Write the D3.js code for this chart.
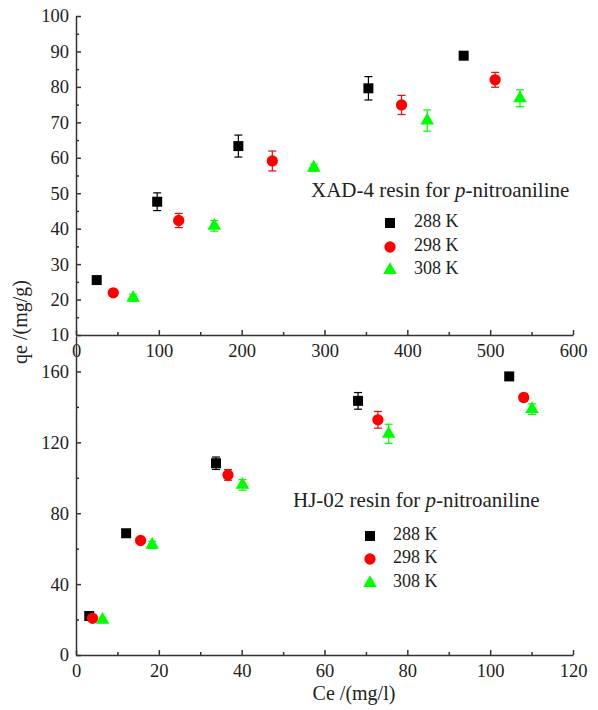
<!DOCTYPE html>
<html><head><meta charset="utf-8">
<script src="https://cdn.jsdelivr.net/npm/d3@7"></script>
<style>body{margin:0;background:#fff;} svg{display:block;}</style>
</head><body>
<svg id="c" width="598" height="710"></svg>
<script>
// ---- data ----
const seriesNames = ["288 K", "298 K", "308 K"];
const seriesColors = ["#000000", "#ff0000", "#00ff00"];
// Top panel: XAD-4 resin
const topX288 = [25, 98, 196, 353, 468];
const topY288 = [25.5, 47.6, 63.3, 79.6, 88.8];
const topE288 = [0.8, 2.5, 3.1, 3.3, 1.0];
const topX298 = [45, 124, 237, 393, 506];
const topY298 = [21.9, 42.3, 59.1, 74.9, 82.0];
const topE298 = [0.8, 2.0, 2.8, 2.7, 2.1];
const topX308 = [69, 167, 287, 424, 536];
const topY308 = [20.5, 40.8, 57.2, 70.5, 76.8];
const topE308 = [1.0, 1.5, 1.0, 3.0, 2.4];
// Bottom panel: HJ-02 resin
const botX288 = [3.2, 12.1, 33.8, 68.1, 104.6];
const botY288 = [22.0, 68.7, 108.2, 143.4, 157.2];
const botE288 = [1.0, 1.5, 3.5, 4.7, 2.0];
const botX298 = [4.0, 15.6, 36.7, 72.9, 108.1];
const botY298 = [20.7, 64.6, 101.6, 132.7, 145.3];
const botE298 = [1.0, 1.0, 3.0, 4.7, 2.0];
const botX308 = [6.4, 18.4, 40.2, 75.5, 110.1];
const botY308 = [19.8, 62.1, 96.0, 124.8, 138.7];
const botE308 = [1.5, 2.0, 3.0, 5.4, 3.0];
// ticks
const topXTicks = [0, 100, 200, 300, 400, 500, 600];
const topXMinor = [50, 150, 250, 350, 450, 550];
const topYTicks = [10, 20, 30, 40, 50, 60, 70, 80, 90, 100];
const topYMinor = [15, 25, 35, 45, 55, 65, 75, 85, 95];
const botXTicks = [0, 20, 40, 60, 80, 100, 120];
const botXMinor = [10, 30, 50, 70, 90, 110];
const botYTicks = [0, 40, 80, 120, 160];
const botYMinor = [20, 60, 100, 140];
const topTitle = ["XAD-4 resin for ", "p", "-nitroaniline"];
const botTitle = ["HJ-02 resin for ", "p", "-nitroaniline"];

const FONT = '"Liberation Serif", "Times New Roman", Times, serif';
const svg = d3.select("#c").style("font-family", FONT);
const axisColor = "#333";
const tickFs = 18.5, legFs = 18, titleFs = 21, axTitleFs = 20;

const xTop = d3.scaleLinear().domain([0, 600]).range([76, 573]);
const yTop = d3.scaleLinear().domain([10, 100]).range([335, 16]);
const xBot = d3.scaleLinear().domain([0, 120]).range([76, 573]);
const yBot = d3.scaleLinear().domain([0, 180]).range([655, 336]);

function drawAxes(x, y, xt, xm, yt, ym, yBase) {
  const gx = svg.append("g").attr("transform", `translate(0,${yBase})`);
  gx.call(d3.axisBottom(x).tickValues(xt).tickSizeInner(-5).tickSizeOuter(0).tickPadding(9).tickFormat(d3.format("d")));
  const gxm = svg.append("g").attr("transform", `translate(0,${yBase})`);
  gxm.call(d3.axisBottom(x).tickValues(xm).tickSizeInner(-3).tickSizeOuter(0).tickFormat(""));
  gxm.select(".domain").remove();
  const gy = svg.append("g").attr("transform", `translate(${x.range()[0]},0)`);
  gy.call(d3.axisLeft(y).tickValues(yt).tickSizeInner(-5).tickSizeOuter(0).tickPadding(7).tickFormat(d3.format("d")));
  const gym = svg.append("g").attr("transform", `translate(${x.range()[0]},0)`);
  gym.call(d3.axisLeft(y).tickValues(ym).tickSizeInner(-3).tickSizeOuter(0).tickFormat(""));
  gym.select(".domain").remove();
  [gx, gxm, gy, gym].forEach(g => {
    g.attr("font-family", FONT).attr("font-size", tickFs);
    g.selectAll("path,line").attr("stroke", axisColor).attr("stroke-width", 1.5);
    g.selectAll("text").style("font-family", FONT).style("font-size", tickFs + "px").attr("fill", "#222");
  });
}

const symTypes = [d3.symbolSquare, d3.symbolCircle, d3.symbolTriangle];
const symSizes = [100, 100, 80];

function drawSeries(x, y, xs, ys, es, i) {
  const color = seriesColors[i];
  const g = svg.append("g");
  const pts = xs.map((v, k) => ({x: v, y: ys[k], e: es[k]}));
  const eb = g.selectAll(".eb").data(pts).enter().append("g");
  eb.append("line").attr("x1", d => x(d.x)).attr("x2", d => x(d.x))
    .attr("y1", d => y(d.y - d.e)).attr("y2", d => y(d.y + d.e));
  eb.append("line").attr("x1", d => x(d.x) - 4).attr("x2", d => x(d.x) + 4)
    .attr("y1", d => y(d.y - d.e)).attr("y2", d => y(d.y - d.e));
  eb.append("line").attr("x1", d => x(d.x) - 4).attr("x2", d => x(d.x) + 4)
    .attr("y1", d => y(d.y + d.e)).attr("y2", d => y(d.y + d.e));
  eb.selectAll("line").attr("stroke", color).attr("stroke-width", 1.2);
  g.selectAll(".pt").data(pts).enter().append("path")
    .attr("d", d3.symbol().type(symTypes[i]).size(symSizes[i]))
    .attr("transform", d => `translate(${x(d.x)},${y(d.y)})`)
    .attr("fill", color);
}

function drawLegend(title, tx, ty, sx, lx, rows) {
  const t = svg.append("text").attr("x", tx).attr("y", ty)
    .style("font-family", FONT).style("font-size", titleFs + "px").attr("fill", "#222")
    .attr("dominant-baseline", "middle");
  t.append("tspan").text(title[0]);
  t.append("tspan").attr("font-style", "italic").text(title[1]);
  t.append("tspan").text(title[2]);
  seriesNames.forEach((n, i) => {
    svg.append("path").attr("d", d3.symbol().type(symTypes[i]).size(symSizes[i]))
      .attr("transform", `translate(${sx},${rows[i]})`).attr("fill", seriesColors[i]);
    svg.append("text").attr("x", lx).attr("y", rows[i])
      .style("font-family", FONT).style("font-size", legFs + "px").attr("fill", "#222")
      .attr("dominant-baseline", "middle").text(n);
  });
}

drawAxes(xTop, yTop, topXTicks, topXMinor, topYTicks, topYMinor, 335);
drawAxes(xBot, yBot, botXTicks, botXMinor, botYTicks, botYMinor, 655);

drawSeries(xTop, yTop, topX288, topY288, topE288, 0);
drawSeries(xTop, yTop, topX298, topY298, topE298, 1);
drawSeries(xTop, yTop, topX308, topY308, topE308, 2);
drawSeries(xBot, yBot, botX288, botY288, botE288, 0);
drawSeries(xBot, yBot, botX298, botY298, botE298, 1);
drawSeries(xBot, yBot, botX308, botY308, botE308, 2);

drawLegend(topTitle, 311, 192, 390, 414, [223, 247, 270]);
drawLegend(botTitle, 293, 502, 370, 393, [536, 559, 583]);

svg.append("text").attr("transform", "translate(22,322) rotate(-90)")
  .attr("text-anchor", "middle").attr("dominant-baseline", "middle")
  .style("font-family", FONT).style("font-size", axTitleFs + "px").attr("fill", "#222")
  .text("qe /(mg/g)");
svg.append("text").attr("x", 354).attr("y", 695)
  .attr("text-anchor", "middle").attr("dominant-baseline", "middle")
  .style("font-family", FONT).style("font-size", axTitleFs + "px").attr("fill", "#222")
  .text("Ce /(mg/l)");
</script>
</body></html>
